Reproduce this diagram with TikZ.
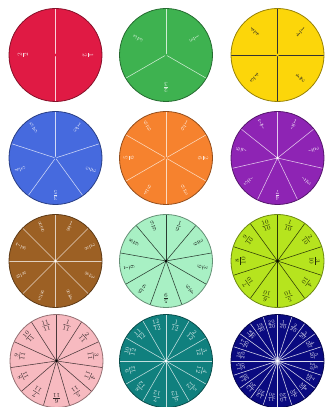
\documentclass[tikz,border=0pt]{standalone}
\usepackage{amsmath}
\usetikzlibrary{calc}

\definecolor{halfred}{RGB}{224,26,68}
\definecolor{thirdgreen}{RGB}{62,178,80}
\definecolor{quartyellow}{RGB}{252,214,10}
\definecolor{fifthblue}{RGB}{70,106,222}
\definecolor{sixthorange}{RGB}{246,130,46}
\definecolor{sevpurple}{RGB}{142,36,180}
\definecolor{eightbrown}{RGB}{156,96,36}
\definecolor{ninemint}{RGB}{168,240,196}
\definecolor{tenlime}{RGB}{182,228,30}
\definecolor{elevpink}{RGB}{247,186,192}
\definecolor{twelveteal}{RGB}{16,128,126}
\definecolor{twentynavy}{RGB}{10,10,128}

\tikzset{
  spoke/.style={line width=0.55pt},
  rim/.style={line width=0.8pt},
  fraclabel/.style={inner sep=0pt}
}

\begin{document}
\begin{tikzpicture}[x=1pt,y=1pt]
  \useasboundingbox (0,0) rectangle (327,407);
  \def\rad{46.5}

  % one fraction circle per entry: centre / parts / fill / spokes / text / centre dot
  \foreach \cx/\cy/\n/\fcol/\lcol/\tcol/\dcol in {
    55.5/352/2/halfred/white!80!halfred/white!85!halfred/halfred,
    166/352/3/thirdgreen/white!75!thirdgreen/white!80!thirdgreen/thirdgreen,
    277.5/352/4/quartyellow/black!80/black!85/quartyellow,
    55.5/249/5/fifthblue/white!75!fifthblue/white!85!fifthblue/fifthblue,
    166/249/6/sixthorange/white!70!sixthorange/white!80!sixthorange/sixthorange,
    277.5/249/7/sevpurple/white!75!sevpurple/white!85!sevpurple/white,
    55.5/146/8/eightbrown/white!70!eightbrown/white!80!eightbrown/white,
    166/146/9/ninemint/black!75!ninemint/black!80!ninemint/black,
    277.5/146/10/tenlime/black!75!tenlime/black!80!tenlime/black,
    56.5/46/11/elevpink/black!70!elevpink/black!80!elevpink/black,
    166/46/12/twelveteal/white!75!twelveteal/white!85!twelveteal/white,
    277.5/46/20/twentynavy/white!85!twentynavy/white!90!twentynavy/white}{
    \fill[\fcol] (\cx,\cy) circle (\rad);
    \pgfmathsetmacro{\lr}{\n<5 ? 0.7 : 0.8}
    \foreach \k in {1,...,\n} {
      \pgfmathsetmacro{\la}{90-\k*360/\n}
      \pgfmathsetmacro{\ta}{90-(\k-0.5)*360/\n}
      \draw[spoke, \lcol] (\cx,\cy) -- ++(\la:\rad);
      % label rotated so its top faces the rim
      \node[fraclabel, text=\tcol, rotate=\ta-90] (f\n-\k)
        at ($(\cx,\cy)+(\ta:\lr*\rad)$)
        {\ifnum\n>12 \tiny\else\footnotesize\fi$\frac{\k}{\n}$};
    }
    \fill[\dcol] (\cx,\cy) circle (1.3);
    \draw[rim, \fcol!60!black] (\cx,\cy) circle (\rad);
  }

\end{tikzpicture}
\end{document}
